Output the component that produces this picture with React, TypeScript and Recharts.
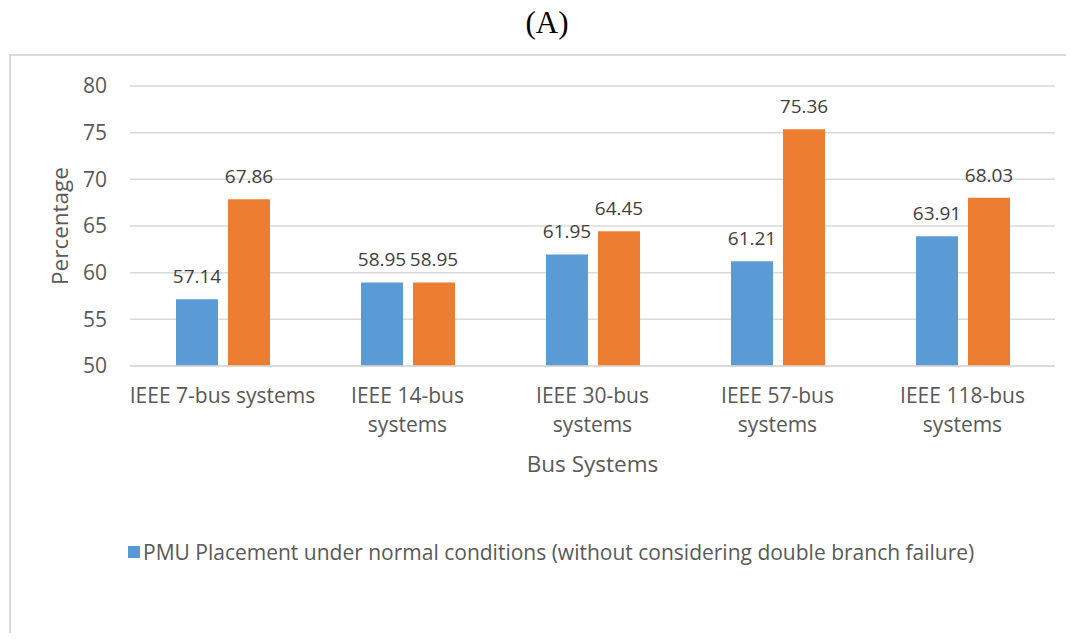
import { BarChart, Bar, CartesianGrid, XAxis, YAxis, LabelList, Legend } from 'recharts';

const systems = ['IEEE 7-bus systems', 'IEEE 14-bus systems', 'IEEE 30-bus systems', 'IEEE 57-bus systems', 'IEEE 118-bus systems'];
const tickLines = [
  ['IEEE 7-bus systems'],
  ['IEEE 14-bus', 'systems'],
  ['IEEE 30-bus', 'systems'],
  ['IEEE 57-bus', 'systems'],
  ['IEEE 118-bus', 'systems'],
];
const normalValues = [57.14, 58.95, 61.95, 61.21, 63.91];
const failureValues = [67.86, 58.95, 64.45, 75.36, 68.03];
const yTicks = [50, 55, 60, 65, 70, 75, 80];
const normalName = 'PMU Placement under normal conditions (without considering double branch failure)';
const failureName = 'PMU Placement considering double branch failure';

const data = systems.map((name, i) => ({
  name,
  normal: normalValues[i],
  failure: failureValues[i],
}));

const FONT = '"Open Sans", sans-serif';
const TEXT = '#595959';

function SystemTick({ x, y, index }: any) {
  const lines = tickLines[index] || [];
  return (
    <text x={x} y={y} textAnchor='middle' fill={TEXT} fontSize={21} fontFamily={FONT}>
      {lines.map((l, i) => (
        <tspan key={i} x={x} dy={29}>
          {l}
        </tspan>
      ))}
    </text>
  );
}

function LegendContent({ payload }: any) {
  const items = (payload || []).filter((p: any) => p.dataKey === 'normal');
  return (
    <div style={{ display: 'flex', alignItems: 'center', fontFamily: FONT, fontSize: 21, color: TEXT, whiteSpace: 'nowrap' }}>
      {items.map((p: any) => (
        <span key={p.dataKey} style={{ display: 'flex', alignItems: 'center' }}>
          <span style={{ width: 12, height: 12, background: p.color, marginRight: 3, display: 'inline-block' }} />
          {p.value}
        </span>
      ))}
    </div>
  );
}

export default function App() {
  return (
    <div style={{ position: 'relative', margin: -8, width: 1074, height: 641, overflow: 'hidden', background: '#fff' }}>
      <div
        style={{
          position: 'absolute',
          top: 6,
          left: 10,
          width: 1074,
          textAlign: 'center',
          fontFamily: '"Liberation Serif", serif',
          fontSize: 31,
          lineHeight: '34px',
          color: '#000',
        }}
      >
        (A)
      </div>
      <div
        style={{
          position: 'absolute',
          left: 9,
          top: 54,
          width: 1100,
          height: 700,
          border: '2px solid #d9d9d9',
        }}
      />
      <div style={{ position: 'absolute', left: 0, top: 0 }}>
        <BarChart
          width={1074}
          height={641}
          data={data}
          margin={{ top: 86, right: 19, left: 70, bottom: 185 }}
          barGap={10}
          barSize={42}
        >
          <CartesianGrid vertical={false} stroke='#d9d9d9' strokeWidth={1.5} />
          <XAxis
            dataKey='name'
            height={90}
            axisLine={{ stroke: '#d9d9d9', strokeWidth: 1.5 }}
            tickLine={false}
            interval={0}
            tick={<SystemTick />}
            label={{ value: 'Bus Systems', position: 'bottom', offset: 0, fill: TEXT, fontSize: 22.5, fontFamily: FONT }}
          />
          <YAxis
            width={60}
            domain={[50, 80]}
            ticks={yTicks}
            axisLine={false}
            tickLine={false}
            tickMargin={17}
            tick={{ fill: TEXT, fontSize: 21, fontFamily: FONT }}
            label={{
              value: 'Percentage',
              angle: -90,
              position: 'insideLeft',
              offset: -10,
              fill: TEXT,
              fontSize: 22.5,
              fontFamily: FONT,
              style: { textAnchor: 'middle' },
            }}
          />
          <Legend
            verticalAlign='middle'
            align='center'
            layout='horizontal'
            wrapperStyle={{ top: 538, left: 128, width: 'auto' }}
            content={<LegendContent />}
          />
          <Bar dataKey='normal' name={normalName} fill='#5b9bd5' isAnimationActive={false}>
            <LabelList dataKey='normal' position='top' offset={16} fill='#404040' fontSize={19} fontFamily={FONT} />
          </Bar>
          <Bar dataKey='failure' name={failureName} fill='#ed7d31' isAnimationActive={false}>
            <LabelList dataKey='failure' position='top' offset={16} fill='#404040' fontSize={19} fontFamily={FONT} />
          </Bar>
        </BarChart>
      </div>
    </div>
  );
}
